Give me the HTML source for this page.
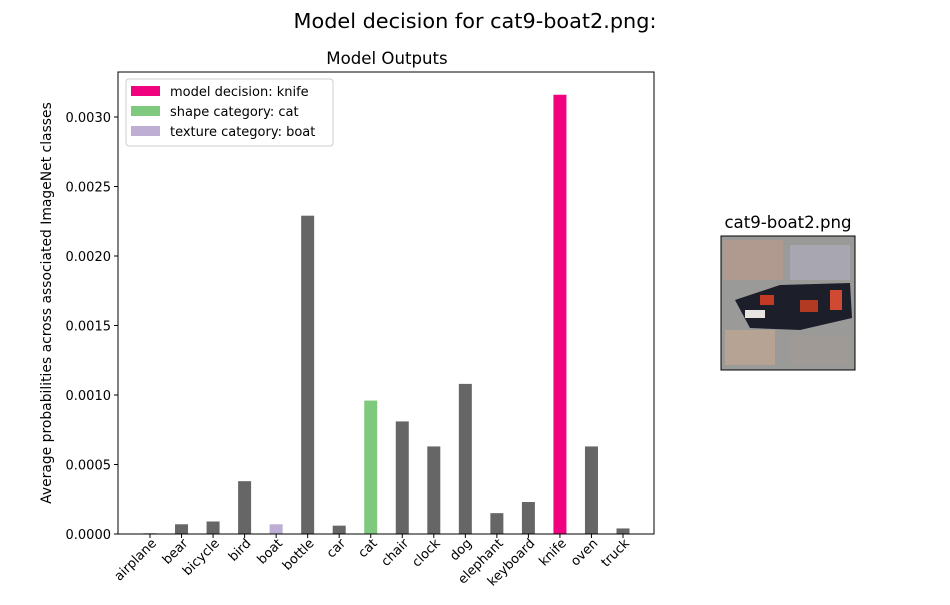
<!DOCTYPE html>
<html><head><meta charset="utf-8"><style>
body{margin:0;background:#fff;font-family:"Liberation Sans","DejaVu Sans",sans-serif;}
svg text{font-family:"DejaVu Sans","Liberation Sans",sans-serif;}
</style></head><body>
<svg id="chart" width="950" height="600" xmlns="http://www.w3.org/2000/svg">
<text x="475" y="28" font-size="20.8" text-anchor="middle">Model decision for cat9-boat2.png:</text>
<text x="387" y="64" font-size="16.6" text-anchor="middle">Model Outputs</text>
<g id="plot"></g>
<text transform="translate(51,303) rotate(-90)" font-size="13.9" text-anchor="middle">Average probabilities across associated ImageNet classes</text>
<g>
<rect x="126" y="79" width="207" height="67" fill="#fff" stroke="#ccc" rx="3"/>
<rect x="131" y="86" width="29" height="10" fill="#f0027f"/>
<text x="170" y="96" font-size="13">model decision: knife</text>
<rect x="131" y="106" width="29" height="10" fill="#7fc97f"/>
<text x="170" y="116" font-size="13">shape category: cat</text>
<rect x="131" y="126" width="29" height="10" fill="#beaed4"/>
<text x="170" y="136" font-size="13">texture category: boat</text>
</g>
<text x="788" y="228" font-size="16.6" text-anchor="middle">cat9-boat2.png</text>
<g>
<rect x="721" y="236" width="134" height="134" fill="#9a9a98"/>
<rect x="723" y="240" width="60" height="40" fill="#b59a8e" opacity="0.8"/>
<rect x="790" y="245" width="60" height="35" fill="#a8a6b0"/>
<rect x="725" y="330" width="50" height="35" fill="#b7a394"/>
<rect x="790" y="335" width="60" height="30" fill="#9f9a96"/>
<path d="M735 300 L780 285 L850 283 L852 318 L800 330 L750 328 Z" fill="#1c1e2a"/>
<rect x="760" y="295" width="14" height="10" fill="#c23a24"/>
<rect x="800" y="300" width="18" height="12" fill="#b23a22"/>
<rect x="830" y="290" width="12" height="20" fill="#cf4a30"/>
<rect x="745" y="310" width="20" height="8" fill="#e8e4e0"/>
<rect x="721" y="236" width="134" height="134" fill="none" stroke="#000"/>
</g>
</svg>
<script>
const categories=["airplane","bear","bicycle","bird","boat","bottle","car","cat","chair","clock","dog","elephant","keyboard","knife","oven","truck"];
const values=[0.000005,0.00007,0.00009,0.00038,0.00007,0.00229,0.00006,0.00096,0.00081,0.00063,0.00108,0.00015,0.00023,0.00316,0.00063,0.00004];
const colors=["#666","#666","#666","#666","#beaed4","#666","#666","#7fc97f","#666","#666","#666","#666","#666","#f0027f","#666","#666"];
const yTicks=[0,0.0005,0.001,0.0015,0.002,0.0025,0.003];
const yTickLabels=["0.0000","0.0005","0.0010","0.0015","0.0020","0.0025","0.0030"];
const L=118,R=654,T=72,B=534;
const y=v=>B-v*(B-117)/0.003;
const x=i=>150+i*(623-150)/(categories.length-1);
const NS="http://www.w3.org/2000/svg",g=document.getElementById('plot');
function mk(t,a){const e=document.createElementNS(NS,t);for(const k in a)e.setAttribute(k,a[k]);g.appendChild(e);return e;}
categories.forEach((c,i)=>{
 const b=mk('rect',{x:x(i)-6.5,y:y(values[i]),width:13,height:B-y(values[i]),fill:colors[i]});
 
 
 mk('line',{x1:x(i),x2:x(i),y1:B,y2:B+4,stroke:'#000'});
 const t=mk('text',{transform:`translate(${x(i)+7},${B+10}) rotate(-45)`,'font-size':13,'text-anchor':'end'});
 t.textContent=c;
 
 
});
yTicks.forEach((v,i)=>{
 mk('line',{x1:L-4,x2:L,y1:y(v),y2:y(v),stroke:'#000'});
 const t=mk('text',{x:L-7,y:y(v)+5,'font-size':13,'text-anchor':'end'});
 t.textContent=yTickLabels[i];
 
 
});
const f=mk('rect',{x:L,y:T,width:R-L,height:B-T,fill:'none',stroke:'#000'});


</script>
</body></html>
